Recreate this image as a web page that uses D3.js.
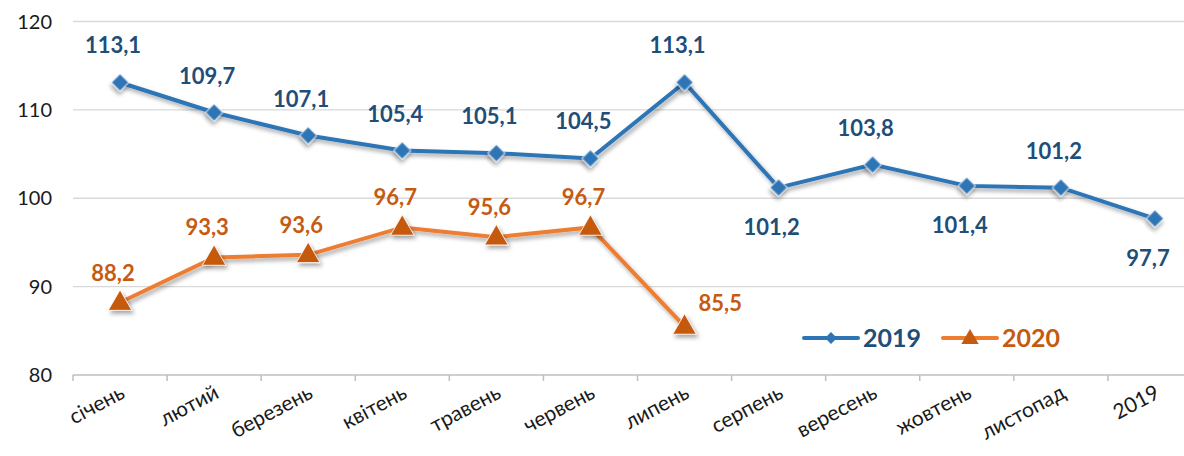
<html>
<head>
<meta charset="utf-8">
<script src="https://cdnjs.cloudflare.com/ajax/libs/d3/7.8.5/d3.min.js"></script>
<style>
  body { margin: 0; background: #fff; }
  svg { font-family: Lato, "Open Sans", sans-serif; }
  .grid line { stroke: #d9d9d9; stroke-width: 1.3; }
  .y-label { font-size: 20px; fill: #1a1a1a; }
  .x-label { font-size: 21px; fill: #1a1a1a; }
  .val { font-size: 22px; font-weight: bold; }
</style>
</head>
<body>
<div id="chart"></div>
<script>
var months = ["січень", "лютий", "березень", "квітень", "травень", "червень",
  "липень", "серпень", "вересень", "жовтень", "листопад", "2019"];
var values2019 = [113.1, 109.7, 107.1, 105.4, 105.1, 104.5, 113.1, 101.2, 103.8, 101.4, 101.2, 97.7];
var values2020 = [88.2, 93.3, 93.6, 96.7, 95.6, 96.7, 85.5];
var yTicks = [80, 90, 100, 110, 120];
var seriesNames = ["2019", "2020"];

var width = 1184, height = 456;

// label placement per point (above / below / right)
var pos2019 = ["a", "a", "a", "a", "a", "a", "a", "b", "a", "b", "a", "b"];
var pos2020 = ["a", "a", "a", "a", "a", "a", "r"];

var x = d3.scaleBand().domain(months).range([73, 1202]);
var y = d3.scaleLinear().domain([80, 120]).range([375, 21.5]);
var cx = d => x(d) + x.bandwidth() / 2;

var svg = d3.select("#chart").append("svg")
  .attr("width", width).attr("height", height);

var defs = svg.append("defs");
var f = defs.append("filter").attr("id", "shadow")
  .attr("x", "-50%").attr("y", "-50%").attr("width", "200%").attr("height", "200%");
f.append("feDropShadow").attr("dx", 2).attr("dy", 3).attr("stdDeviation", 2)
  .attr("flood-color", "#000").attr("flood-opacity", 0.35);

/* grid */
svg.append("g").attr("class", "grid")
  .selectAll("line").data(yTicks.slice(1)).enter()
  .append("line")
  .attr("x1", 73).attr("x2", width)
  .attr("y1", d => y(d)).attr("y2", d => y(d));

/* y labels */
svg.append("g").selectAll("text").data(yTicks).enter()
  .append("text").attr("class", "y-label")
  .attr("x", 52).attr("y", d => y(d) + 7)
  .attr("text-anchor", "end")
  .text(d => d);

/* x axis */
var xAxis = d3.axisBottom(x).tickSize(0).tickFormat("");
var ax = svg.append("g").attr("transform", "translate(0,375)").call(xAxis);
ax.select(".domain").attr("stroke", "#bfbfbf").attr("stroke-width", 1.5)
  .attr("d", "M73,0H" + width);
ax.selectAll(".tick").remove();
ax.selectAll(".sep").data(months).enter().append("line")
  .attr("x1", d => x(d)).attr("x2", d => x(d))
  .attr("y1", 0).attr("y2", 6)
  .attr("stroke", "#bfbfbf").attr("stroke-width", 1.5);

svg.append("g").selectAll("text").data(months).enter()
  .append("text").attr("class", "x-label")
  .attr("text-anchor", "end")
  .attr("transform", d => `translate(${cx(d) + 6},${397}) rotate(-28)`)
  .text(d => d);

/* lines */
var line = d3.line().x((d, i) => cx(months[i])).y(d => y(d));

function drawSeries(vals, lineColor, markColor, labelColor, shape, placement) {
  var isDiamond = shape === d3.symbolSquare;
  var g = svg.append("g");
  g.append("path")
    .attr("d", line(vals))
    .attr("fill", "none")
    .attr("stroke", lineColor)
    .attr("stroke-width", 4)
    .attr("filter", "url(#shadow)");
  g.selectAll("path.m").data(vals).enter()
    .append("path").attr("class", "m")
    .attr("d", d3.symbol().type(shape).size(isDiamond ? 150 : 240))
    .attr("transform", (d, i) => isDiamond
      ? `translate(${cx(months[i])},${y(d)}) rotate(45)`
      : `translate(${cx(months[i])},${y(d) + 1})`)
    .attr("fill", markColor)
    .attr("stroke", "#fff").attr("stroke-width", 0.8)
    .attr("filter", "url(#shadow)");
  g.selectAll("text").data(vals).enter()
    .append("text").attr("class", "val")
    .attr("fill", labelColor)
    .attr("text-anchor", (d, i) => placement[i] === "r" ? "start" : "middle")
    .attr("x", (d, i) => placement[i] === "r" ? cx(months[i]) + 14 : cx(months[i]) - 7)
    .attr("y", (d, i) => {
      var p = placement[i];
      if (p === "b") return y(d) + 47;
      if (p === "r") return y(d) - 15;
      return y(d) - (isDiamond ? 29 : 22);
    })
    .text(d => String(d).replace(".", ","));
}

drawSeries(values2019, "#2e75b6", "#2e75b6", "#1f4e79", d3.symbolSquare, pos2019);
drawSeries(values2020, "#ed7d31", "#c55a11", "#c55a11", d3.symbolTriangle, pos2020);

/* legend */
var legend = [
  {name: seriesNames[0], x: 804, line: "#2e75b6", mark: "#2e75b6", text: "#1f4e79", shape: d3.symbolSquare},
  {name: seriesNames[1], x: 943, line: "#ed7d31", mark: "#c55a11", text: "#c55a11", shape: d3.symbolTriangle}
];
var lg = svg.append("g").selectAll("g").data(legend).enter()
  .append("g").attr("transform", d => `translate(${d.x},338)`);
lg.append("line").attr("x1", 0).attr("x2", 54).attr("y1", 0).attr("y2", 0)
  .attr("stroke", d => d.line).attr("stroke-width", 4).attr("stroke-linecap", "round");
lg.append("path")
  .attr("d", d => d3.symbol().type(d.shape).size(d.shape === d3.symbolSquare ? 70 : 130)())
  .attr("transform", d => d.shape === d3.symbolSquare ? "translate(27,0) rotate(45)" : "translate(27,1)")
  .attr("fill", d => d.mark);
lg.append("text").attr("x", 59).attr("y", 9)
  .attr("fill", d => d.text)
  .style("font-size", "25px").style("font-weight", "bold")
  .text(d => d.name);
</script>
</body>
</html>
